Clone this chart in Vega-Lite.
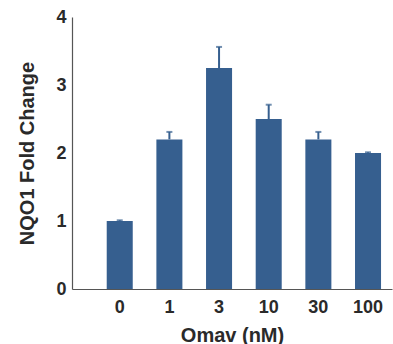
{
  "$schema": "https://vega.github.io/schema/vega-lite/v6.json",
  "autosize": "none",
  "padding": {"left": 72, "top": 17, "right": 1, "bottom": 55},
  "width": 320,
  "height": 272,
  "background": "white",
  "config": {
    "view": {"stroke": null},
    "font": "Liberation Sans",
    "axis": {
      "domainColor": "#555555",
      "domainWidth": 1.2,
      "ticks": false,
      "grid": false,
      "labelFont": "Liberation Sans",
      "labelFontWeight": "bold",
      "labelColor": "#2a2a2a",
      "labelFontSize": 18,
      "titleFont": "Liberation Sans",
      "titleFontWeight": "bold",
      "titleColor": "#2a2a2a",
      "titleFontSize": 20
    }
  },
  "data": {
    "values": [
      {"dose": "0", "mean": 1.0, "upper": 1.01},
      {"dose": "1", "mean": 2.2, "upper": 2.31},
      {"dose": "3", "mean": 3.25, "upper": 3.56},
      {"dose": "10", "mean": 2.5, "upper": 2.71},
      {"dose": "30", "mean": 2.2, "upper": 2.31},
      {"dose": "100", "mean": 2.0, "upper": 2.01}
    ]
  },
  "encoding": {
    "x": {
      "field": "dose",
      "type": "nominal",
      "sort": null,
      "scale": {"domain": ["0", "1", "3", "10", "30", "100"], "paddingInner": 0.476, "paddingOuter": 0.46, "align": 0.76},
      "axis": {"title": "Omav (nM)", "labelAngle": 0, "labelPadding": 9, "titlePadding": 9}
    }
  },
  "layer": [
    {
      "mark": {"type": "bar", "color": "#365f8f"},
      "encoding": {
        "y": {
          "field": "mean",
          "type": "quantitative",
          "scale": {"domain": [0, 4]},
          "axis": {"title": "NQO1 Fold Change", "values": [0, 1, 2, 3, 4], "format": "d", "labelPadding": 6, "titlePadding": 18}
        }
      }
    },
    {
      "mark": {"type": "rule", "color": "#365f8f", "strokeWidth": 2},
      "encoding": {
        "y": {"field": "mean", "type": "quantitative"},
        "y2": {"field": "upper"}
      }
    },
    {
      "mark": {"type": "tick", "color": "#365f8f", "orient": "horizontal", "size": 6, "thickness": 2},
      "encoding": {
        "y": {"field": "upper", "type": "quantitative"}
      }
    }
  ]
}
